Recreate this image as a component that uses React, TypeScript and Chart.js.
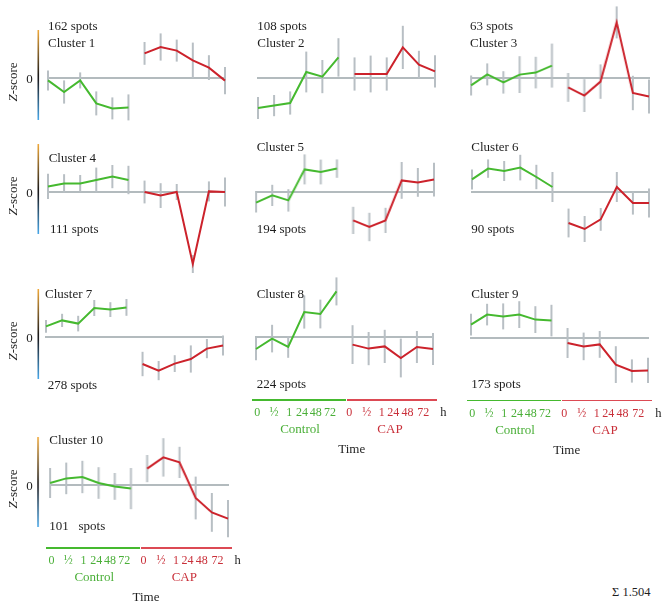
import React, { useEffect, useRef } from "react";
import { Chart, registerables } from "chart.js";

Chart.register(...registerables);

// ---------- data ----------
const timeLabels = ["0", "½", "1", "24", "48", "72"];
const groupNames = ["Control", "CAP"];
const clusterNames = ["Cluster 1", "Cluster 2", "Cluster 3", "Cluster 4", "Cluster 5", "Cluster 6", "Cluster 7", "Cluster 8", "Cluster 9", "Cluster 10"];
const spotLabels = ["162 spots", "108 spots", "63 spots", "111 spots", "194 spots", "90 spots", "278 spots", "224 spots", "173 spots", "101   spots"];
const sumLabel = "Σ 1.504";

const c1Ctrl = [-0.12, -0.7, -0.12, -1.27, -1.52, -1.47];
const c1CtrlSd = [0.5, 0.58, 0.4, 0.6, 0.55, 0.65];
const c1Cap = [1.23, 1.55, 1.37, 0.88, 0.52, -0.13];
const c1CapSd = [0.57, 0.68, 0.55, 0.89, 0.62, 0.68];

const c2Ctrl = [-1.5, -1.38, -1.25, 0.3, 0.07, 1.03];
const c2CtrlSd = [0.55, 0.53, 0.58, 1.02, 0.83, 0.96];
const c2Cap = [0.2, 0.2, 0.2, 1.53, 0.67, 0.33];
const c2CapSd = [0.83, 0.92, 0.83, 1.08, 0.69, 0.81];

const c3Ctrl = [-0.37, 0.18, -0.22, 0.17, 0.27, 0.62];
const c3CtrlSd = [0.5, 0.55, 0.56, 0.92, 0.79, 1.1];
const c3Cap = [-0.47, -0.88, -0.18, 2.78, -0.75, -0.92];
const c3CapSd = [0.72, 0.82, 0.86, 0.8, 0.86, 0.85];

const c4Ctrl = [0.28, 0.43, 0.43, 0.6, 0.77, 0.6];
const c4CtrlSd = [0.63, 0.46, 0.42, 0.62, 0.58, 0.71];
const c4Cap = [0, -0.18, 0, -3.6, 0.03, 0];
const c4CapSd = [0.57, 0.62, 0.4, 0.45, 0.5, 0.73];

const c5Ctrl = [-0.53, -0.17, -0.42, 1.13, 1.0, 1.17];
const c5CtrlSd = [0.5, 0.53, 0.56, 0.75, 0.62, 0.46];
const c5Cap = [-1.42, -1.75, -1.42, 0.58, 0.48, 0.62];
const c5CapSd = [0.68, 0.71, 0.63, 0.92, 0.72, 0.84];

const c6Ctrl = [0.63, 1.17, 1.05, 1.22, 0.75, 0.25];
const c6CtrlSd = [0.5, 0.46, 0.5, 0.64, 0.61, 0.75];
const c6Cap = [-1.55, -1.85, -1.37, 0.25, -0.55, -0.55];
const c6CapSd = [0.72, 0.65, 0.57, 0.75, 0.58, 0.72];

const c7Ctrl = [0.53, 0.83, 0.67, 1.45, 1.37, 1.48];
const c7CtrlSd = [0.32, 0.33, 0.39, 0.4, 0.37, 0.42];
const c7Cap = [-1.35, -1.68, -1.33, -1.1, -0.58, -0.43];
const c7CapSd = [0.61, 0.48, 0.42, 0.68, 0.48, 0.5];

const c8Ctrl = [-0.6, -0.08, -0.5, 1.25, 1.15, 2.28];
const c8CtrlSd = [0.56, 0.69, 0.54, 0.83, 0.72, 0.7];
const c8Cap = [-0.38, -0.58, -0.47, -1.05, -0.5, -0.6];
const c8CapSd = [0.97, 0.83, 0.83, 0.97, 0.8, 0.8];

const c9Ctrl = [0.67, 1.17, 1.08, 1.17, 0.92, 0.87];
const c9CtrlSd = [0.54, 0.54, 0.65, 0.67, 0.67, 0.79];
const c9Cap = [-0.25, -0.42, -0.32, -1.33, -1.65, -1.62];
const c9CapSd = [0.75, 0.69, 0.67, 0.92, 0.58, 0.63];

const c10Ctrl = [0.1, 0.33, 0.4, 0.1, -0.07, -0.18];
const c10CtrlSd = [0.75, 0.79, 0.81, 0.79, 0.67, 1.03];
const c10Cap = [0.82, 1.38, 1.13, -0.65, -1.37, -1.68];
const c10CapSd = [0.68, 0.96, 0.78, 1.07, 0.97, 0.93];

const ctrlSeries = [c1Ctrl, c2Ctrl, c3Ctrl, c4Ctrl, c5Ctrl, c6Ctrl, c7Ctrl, c8Ctrl, c9Ctrl, c10Ctrl];
const ctrlSdSeries = [c1CtrlSd, c2CtrlSd, c3CtrlSd, c4CtrlSd, c5CtrlSd, c6CtrlSd, c7CtrlSd, c8CtrlSd, c9CtrlSd, c10CtrlSd];
const capSeries = [c1Cap, c2Cap, c3Cap, c4Cap, c5Cap, c6Cap, c7Cap, c8Cap, c9Cap, c10Cap];
const capSdSeries = [c1CapSd, c2CapSd, c3CapSd, c4CapSd, c5CapSd, c6CapSd, c7CapSd, c8CapSd, c9CapSd, c10CapSd];

// ---------- layout / style ----------
const GREEN = "#45b92f";
const RED = "#cc222b";
const GREEN_TXT = "#4aaf38";
const RED_TXT = "#c9303a";
const RED_RULE = "#dc4a54";
const BAR = "#b8bfc4";
const ZERO = "#9aa4a9";
const FONT = "'Liberation Serif', 'Times New Roman', serif";

const SPAN = 177.5;
const PLOT_H = 160; // -4..4
const PAD_L = 16, PAD_R = 6, PAD_T = 8, PAD_B = 8;
const AXIS_X = 38;

const layout = [
  { fx: 47.7, zy: 78, tx: 48, ty: 42, sx: 48, sy: 25, axis: true, time: false },
  { fx: 257.7, zy: 78.3, tx: 257.3, ty: 42, sx: 257.3, sy: 25, axis: false, time: false },
  { fx: 471, zy: 78.3, tx: 470, ty: 42, sx: 470, sy: 25, axis: false, time: false },
  { fx: 47.7, zy: 192.3, tx: 48.7, ty: 156.7, sx: 50, sy: 228.3, axis: true, time: false },
  { fx: 256, zy: 191.7, tx: 256.7, ty: 146, sx: 256.7, sy: 228.3, axis: false, time: false },
  { fx: 471.7, zy: 191.7, tx: 471.3, ty: 146, sx: 471.3, sy: 228.3, axis: false, time: false },
  { fx: 45.7, zy: 337.3, tx: 45, ty: 292.7, sx: 47.7, sy: 384, axis: true, time: false },
  { fx: 255.7, zy: 337, tx: 256.7, ty: 292.7, sx: 256.7, sy: 383.3, axis: false, time: true },
  { fx: 470.7, zy: 337.7, tx: 471.3, ty: 292.7, sx: 471.3, sy: 383.3, axis: false, time: true },
  { fx: 50, zy: 485.3, tx: 49.3, ty: 438.7, sx: 49.3, sy: 525, axis: true, time: true },
];

const ctrlTickOff = [1.6, 18.3, 33.6, 46.3, 60.1, 74.3];
const capTickOff = [93.6, 111, 126, 137.5, 151.8, 167.6];

const decorPlugin = {
  id: "decor",
  beforeDatasetsDraw(chart: any) {
    const { ctx, chartArea, scales } = chart;
    const opts = chart.options.plugins.decor || {};
    const y0 = scales.y.getPixelForValue(0);
    ctx.save();
    if (opts.axis) {
      const ax = opts.axisX;
      const top = scales.y.getPixelForValue(2.4);
      const bot = scales.y.getPixelForValue(-2.1);
      const g = ctx.createLinearGradient(0, top, 0, bot);
      g.addColorStop(0, "#f2aa3a");
      g.addColorStop(0.5, "#1c1a18");
      g.addColorStop(0.56, "#1a1c22");
      g.addColorStop(1, "#48a8ea");
      ctx.strokeStyle = g;
      ctx.lineWidth = 1.6;
      ctx.beginPath();
      ctx.moveTo(ax, top);
      ctx.lineTo(ax, bot);
      ctx.stroke();
    }
    ctx.strokeStyle = ZERO;
    ctx.lineWidth = 1.4;
    ctx.beginPath();
    ctx.moveTo(chartArea.left - 1, y0);
    ctx.lineTo(chartArea.right + 1, y0);
    ctx.stroke();
    ctx.strokeStyle = BAR;
    ctx.lineWidth = 2;
    chart.data.datasets.forEach((ds: any) => {
      ds.data.forEach((v: any, i: number) => {
        if (v == null) return;
        const sd = ds.sd[i];
        const x = scales.x.getPixelForValue(i);
        ctx.beginPath();
        ctx.moveTo(x, scales.y.getPixelForValue(v + sd));
        ctx.lineTo(x, scales.y.getPixelForValue(v - sd));
        ctx.stroke();
      });
    });
    ctx.restore();
  },
};

function Panel({ idx }: { idx: number }) {
  const ref = useRef<HTMLCanvasElement>(null);
  const L = layout[idx];
  const W = SPAN + PAD_L + PAD_R;
  const H = PLOT_H + PAD_T + PAD_B;
  const left = L.fx - PAD_L;
  const top = L.zy - PLOT_H / 2 - PAD_T;
  useEffect(() => {
    const empty = [null, null, null, null, null, null];
    const chart = new Chart(ref.current as HTMLCanvasElement, {
      type: "line",
      data: {
        labels: [...timeLabels, ...timeLabels],
        datasets: [
          {
            label: groupNames[0],
            data: [...ctrlSeries[idx], ...empty],
            sd: [...ctrlSdSeries[idx], ...empty],
            borderColor: GREEN,
            borderWidth: 2,
            pointRadius: 0,
            tension: 0,
            clip: false,
          } as any,
          {
            label: groupNames[1],
            data: [...empty, ...capSeries[idx]],
            sd: [...empty, ...capSdSeries[idx]],
            borderColor: RED,
            borderWidth: 2,
            pointRadius: 0,
            tension: 0,
            clip: false,
          } as any,
        ],
      },
      options: {
        animation: false,
        responsive: false,
        maintainAspectRatio: false,
        devicePixelRatio: 1,
        layout: { padding: { left: PAD_L, right: PAD_R, top: PAD_T, bottom: PAD_B } },
        scales: {
          x: { display: false, offset: false },
          y: { display: false, min: -4, max: 4 },
        },
        plugins: {
          legend: { display: false },
          tooltip: { enabled: false },
          decor: { axis: L.axis, axisX: AXIS_X - left },
        } as any,
      },
      plugins: [decorPlugin],
    });
    return () => chart.destroy();
  }, []);
  return (
    <canvas
      ref={ref}
      width={W}
      height={H}
      style={{ position: "absolute", left, top, width: W, height: H }}
    />
  );
}

function Txt({ x, y, children, color = "#1e1e1e", size = 13, center = false, style = {} }: any) {
  return (
    <div
      style={{
        position: "absolute",
        left: x,
        top: y,
        transform: center ? "translate(-50%, -50%)" : "translate(0, -50%)",
        fontFamily: FONT,
        fontSize: size,
        lineHeight: 1,
        color,
        whiteSpace: "pre",
        ...style,
      }}
    >
      {children}
    </div>
  );
}

function TimeAxis({ idx }: { idx: number }) {
  const L = layout[idx];
  const fx = L.fx;
  const zy = L.zy;
  return (
    <>
      <div style={{ position: "absolute", left: fx - 4, top: zy + 62, width: 94, height: 1.5, background: GREEN }} />
      <div style={{ position: "absolute", left: fx + 91.3, top: zy + 62, width: 90.3, height: 1.5, background: RED_RULE }} />
      {timeLabels.map((t, i) => (
        <Txt key={"g" + i} x={fx + ctrlTickOff[i]} y={zy + 75} center color={GREEN_TXT} size={12}>{t}</Txt>
      ))}
      {timeLabels.map((t, i) => (
        <Txt key={"r" + i} x={fx + capTickOff[i]} y={zy + 75} center color={RED_TXT} size={12}>{t}</Txt>
      ))}
      <Txt x={fx + 187.6} y={zy + 75} center size={12.5}>h</Txt>
      <Txt x={fx + 44.3} y={zy + 91} center color={GREEN_TXT} size={13}>{groupNames[0]}</Txt>
      <Txt x={fx + 134.3} y={zy + 91} center color={RED_TXT} size={13}>{groupNames[1]}</Txt>
      <Txt x={fx + 96} y={zy + 111} center size={13}>Time</Txt>
    </>
  );
}

export default function App() {
  return (
    <div style={{ position: "absolute", left: 0, top: 0, width: 672, height: 609, background: "#fff", overflow: "hidden" }}>
      {layout.map((L, i) => (
        <React.Fragment key={i}>
          <Panel idx={i} />
          <Txt x={L.tx} y={L.ty}>{clusterNames[i]}</Txt>
          <Txt x={L.sx} y={L.sy}>{spotLabels[i]}</Txt>
          {L.axis && (
            <>
              <Txt x={29.5} y={L.zy} center size={13}>0</Txt>
              <Txt x={12.3} y={L.zy + 3.5} center size={13} style={{ transform: "translate(-50%, -50%) rotate(-90deg)" }}>
                <i>Z</i>-score
              </Txt>
            </>
          )}
          {L.time && <TimeAxis idx={i} />}
        </React.Fragment>
      ))}
      <Txt x={612} y={592.3} size={12.5}>{sumLabel}</Txt>
    </div>
  );
}
